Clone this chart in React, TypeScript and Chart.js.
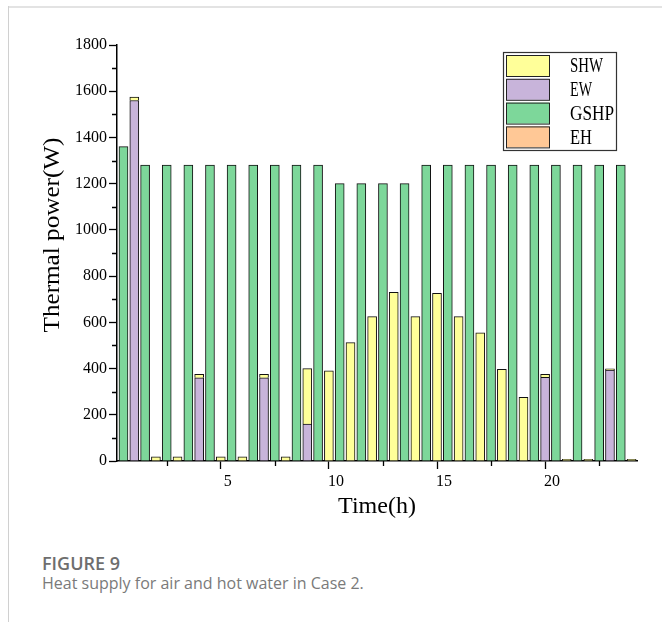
import React, { useEffect, useRef } from 'react';
import { Chart, registerables } from 'chart.js';

Chart.register(...registerables);

// ---- data ----
const hours = [1, 2, 3, 4, 5, 6, 7, 8, 9, 10, 11, 12, 13, 14, 15, 16, 17, 18, 19, 20, 21, 22, 23, 24];
const seriesNames = ['SHW', 'EW', 'GSHP', 'EH'];
const shwValues = [15, 18, 18, 15, 18, 18, 15, 18, 240, 390, 512, 625, 730, 625, 725, 625, 555, 397, 275, 13, 7, 7, 6, 7];
const ewValues = [1560, 0, 0, 360, 0, 0, 360, 0, 160, 0, 0, 0, 0, 0, 0, 0, 0, 0, 0, 362, 0, 0, 393, 0];
const gshpValues = [1360, 1280, 1280, 1280, 1280, 1280, 1280, 1280, 1280, 1280, 1200, 1200, 1200, 1200, 1280, 1280, 1280, 1280, 1280, 1280, 1280, 1280, 1280, 1280];
const ehValues = [0, 0, 0, 0, 0, 0, 0, 0, 0, 0, 0, 0, 0, 0, 0, 0, 0, 0, 0, 0, 0, 0, 0, 0];
const xTickValues = [5, 10, 15, 20];
const xMinorTicks = [2.5, 7.5, 12.5, 17.5, 22.5];
const yMinorTicks = [100, 300, 500, 700, 900, 1100, 1300, 1500, 1700];
const xTitle = 'Time(h)';
const yTitle = 'Thermal power(W)';

const colors: Record<string, string> = {
  SHW: '#FFFF99',
  EW: '#C8B4DA',
  GSHP: '#7DD79A',
  EH: '#FFC896',
};

const SERIF = '"Liberation Serif", "Times New Roman", serif';

function fitText(ctx: CanvasRenderingContext2D, text: string, x: number, y: number, width: number) {
  const w = ctx.measureText(text).width;
  const sx = width / w;
  ctx.save();
  ctx.translate(x, y);
  ctx.scale(sx, 1);
  ctx.fillText(text, 0, 0);
  ctx.restore();
}

const decorPlugin = {
  id: 'decor',
  afterDraw(chart: any) {
    const { ctx, chartArea, scales } = chart;
    const x = scales.x;
    const y = scales.y;
    ctx.save();
    // minor ticks
    ctx.strokeStyle = '#000';
    ctx.lineWidth = 1.3;
    ctx.beginPath();
    xMinorTicks.forEach((v) => {
      const px = Math.round(x.getPixelForValue(v)) + 0.5;
      ctx.moveTo(px, chartArea.bottom);
      ctx.lineTo(px, chartArea.bottom + 5);
    });
    yMinorTicks.forEach((v) => {
      const py = Math.round(y.getPixelForValue(v)) + 0.5;
      ctx.moveTo(chartArea.left, py);
      ctx.lineTo(chartArea.left - 5, py);
    });
    ctx.stroke();

    // y axis title
    ctx.fillStyle = '#000';
    ctx.font = `24px ${SERIF}`;
    ctx.textBaseline = 'middle';
    ctx.textAlign = 'left';
    ctx.save();
    ctx.translate(chartArea.left - 64, (chartArea.top + chartArea.bottom) / 2 - 18);
    ctx.rotate(-Math.PI / 2);
    const tw = 195;
    fitText(ctx, yTitle, -tw / 2, 0, tw);
    ctx.restore();

    // legend box
    const bx = chartArea.right - 134;
    const by = chartArea.top + 7;
    const bw = 113;
    const bh = 98;
    ctx.lineWidth = 1.2;
    ctx.strokeStyle = '#333';
    ctx.strokeRect(bx + 0.5, by + 0.5, bw, bh);
    ctx.font = `22px ${SERIF}`;
    ctx.textBaseline = 'middle';
    seriesNames.forEach((name, i) => {
      const sy = by + 3 + i * 23.8;
      ctx.fillStyle = colors[name];
      ctx.fillRect(bx + 3, sy, 43, 21);
      ctx.strokeStyle = '#222';
      ctx.lineWidth = 1;
      ctx.strokeRect(bx + 3.5, sy + 0.5, 43, 21);
      ctx.fillStyle = '#000';
      fitText(ctx, name, bx + 67, sy + 11.5, name.length * 11);
    });
    ctx.restore();
  },
};

function makeDataset(name: string, values: number[], offset: number, stack: string) {
  return {
    label: name,
    data: hours.map((h, i) => ({ x: h + offset, y: values[i] })),
    backgroundColor: colors[name],
    borderColor: '#111',
    borderWidth: 1,
    barThickness: 9,
    grouped: false,
    stack,
  };
}

export default function App() {
  const ref = useRef<HTMLCanvasElement>(null);
  useEffect(() => {
    if (!ref.current) return;
    const chart = new Chart(ref.current, {
      type: 'bar',
      data: {
        datasets: [
          makeDataset('EW', ewValues, 0, 'water'),
          makeDataset('SHW', shwValues, 0, 'water'),
          makeDataset('EH', ehValues, 0, 'water'),
          makeDataset('GSHP', gshpValues, -0.5, 'air'),
        ] as any,
      },
      options: {
        responsive: false,
        animation: false,
        layout: { padding: { left: 30, right: 25, top: 45, bottom: 19 } },
        plugins: {
          legend: { display: false },
          tooltip: { enabled: false },
        },
        scales: {
          x: {
            type: 'linear',
            min: 0.2,
            max: 24.25,
            offset: false,
            stacked: false,
            afterBuildTicks: (s: any) => {
              s.ticks = xTickValues.map((v) => ({ value: v }));
            },
            afterFit: (s: any) => {
              s.height = 60;
            },
            grid: {
              display: true,
              drawOnChartArea: false,
              drawTicks: true,
              tickLength: 8,
              tickWidth: 1.3,
              tickColor: '#000',
              offset: false,
            },
            border: { display: true, color: '#000', width: 1.5 },
            ticks: {
              font: { family: SERIF, size: 16 },
              color: '#000',
              padding: 3,
              labelOffset: 7,
              maxRotation: 0,
              callback: (v: any) => String(v),
            },
            title: {
              display: true,
              text: xTitle,
              font: { family: SERIF, size: 24 },
              color: '#000',
              padding: 0,
            },
          },
          y: {
            type: 'linear',
            min: 0,
            max: 1800,
            stacked: true,
            afterFit: (s: any) => {
              s.width = 87;
            },
            grid: {
              display: true,
              drawOnChartArea: false,
              drawTicks: true,
              tickLength: 8,
              tickWidth: 1.3,
              tickColor: '#000',
            },
            border: { display: true, color: '#000', width: 1.5 },
            ticks: {
              stepSize: 200,
              font: { family: SERIF, size: 16 },
              color: '#000',
              padding: 2,
              callback: (v: any) => String(v),
            },
          },
        },
      } as any,
      plugins: [decorPlugin],
    });
    return () => chart.destroy();
  }, []);

  return (
    <div>
      <div style={{ position: 'absolute', left: 8, top: 6, width: 654, height: 2, background: '#e3e3e3' }} />
      <div style={{ position: 'absolute', left: 8, top: 6, width: 1, height: 616, background: '#d0d0d0' }} />
      <div style={{ position: 'absolute', left: 0, top: 0, width: 662, height: 540 }}>
        <canvas ref={ref} width={662} height={540} style={{ width: 662, height: 540, display: 'block' }} />
      </div>
      <div
        style={{
          position: 'absolute',
          left: 42,
          top: 554,
          fontFamily: '"Open Sans", sans-serif',
          fontWeight: 600,
          fontSize: 18,
          lineHeight: '18px',
          color: '#6e6e6e',
          whiteSpace: 'nowrap',
        }}
      >
        FIGURE 9
      </div>
      <div
        style={{
          position: 'absolute',
          left: 42,
          top: 575,
          fontFamily: '"Open Sans", sans-serif',
          fontSize: 16,
          lineHeight: '16px',
          color: '#7a7a7a',
          whiteSpace: 'nowrap',
        }}
      >
        Heat supply for air and hot water in Case 2.
      </div>
    </div>
  );
}
